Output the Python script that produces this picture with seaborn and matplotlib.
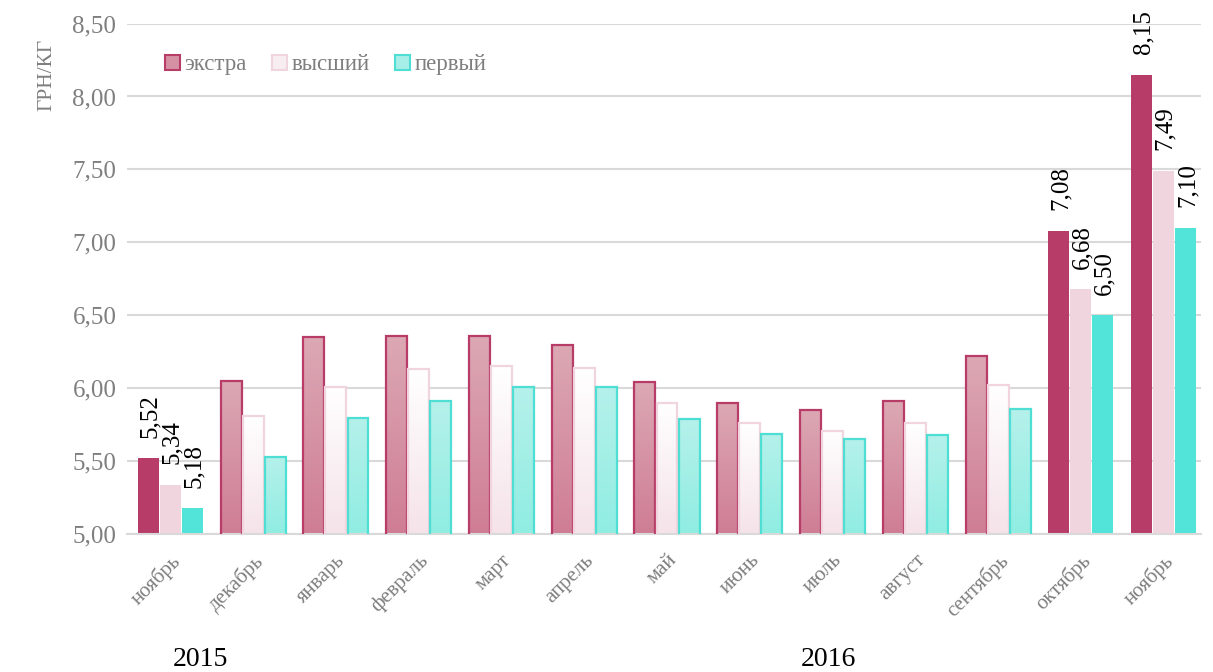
import numpy as np
import pandas as pd
import matplotlib
matplotlib.use("Agg")
import matplotlib.pyplot as plt
import seaborn as sns
from matplotlib.colors import LinearSegmentedColormap
from matplotlib.patches import Patch

months = ["ноябрь", "декабрь", "январь", "февраль", "март", "апрель", "май",
          "июнь", "июль", "август", "сентябрь", "октябрь", "ноябрь "]
series = ["экстра", "высший", "первый"]
extra = [5.52, 6.05, 6.35, 6.36, 6.36, 6.30, 6.04, 5.90, 5.85, 5.91, 6.22, 7.08, 8.15]
vysshiy = [5.34, 5.81, 6.01, 6.13, 6.15, 6.14, 5.90, 5.76, 5.71, 5.76, 6.02, 6.68, 7.49]
perviy = [5.18, 5.53, 5.80, 5.91, 6.01, 6.01, 5.79, 5.69, 5.65, 5.68, 5.86, 6.50, 7.10]
yticks = [5.0, 5.5, 6.0, 6.5, 7.0, 7.5, 8.0, 8.5]
years = ["2015", "2016"]
labeled_groups = [0, 11, 12]

df = pd.DataFrame({
    "month": months * 3,
    "series": [s for s in series for _ in months],
    "value": extra + vysshiy + perviy,
})

solid = {"экстра": "#b83c68", "высший": "#f0d5de", "первый": "#52e3d9"}
edges = {"экстра": "#b83c68", "высший": "#f0d5de", "первый": "#4fded3"}
grad = {"экстра": ("#dca8b4", "#cf7d95"),
        "высший": ("#ffffff", "#f5e3e9"),
        "первый": ("#b5f1eb", "#90ede2")}

sns.set_theme(style="white")
plt.rcParams["font.family"] = ["Liberation Serif", "DejaVu Serif"]

fig = plt.figure(figsize=(12.13, 6.72), dpi=100)
ax = fig.add_axes([0.105, 0.205, 0.885, 0.76])

sns.barplot(data=df, x="month", y="value", hue="series", order=months,
            hue_order=series, palette=solid, width=0.8, gap=0.05,
            ax=ax, legend=False, saturation=1)

ymin, ymax = 5.0, 8.5
ax.set_ylim(ymin, ymax)
ax.set_xlim(-0.52, 12.45)
ax.set_yticks(yticks)
ax.set_yticklabels([f"{v:.2f}".replace(".", ",") for v in yticks],
                   fontsize=18, color="#7f7f7f")
ax.set_xticks(range(len(months)))
ax.set_xticklabels([m.strip() for m in months], rotation=45, ha="right",
                   rotation_mode="anchor", fontsize=15, color="#7f7f7f")
ax.tick_params(axis="x", length=0, pad=12)
ax.tick_params(axis="y", length=0, pad=8)
ax.yaxis.grid(True, color="#d9d9d9", linewidth=1.5)
ax.set_axisbelow(True)
for s in ["top", "right", "left"]:
    ax.spines[s].set_visible(False)
ax.spines["bottom"].set_color("#d9d9d9")
ax.spines["bottom"].set_linewidth(1.5)
ax.set_xlabel("")
ax.set_ylabel("ГРН/КГ", fontsize=15.5, color="#7f7f7f")
ax.yaxis.set_label_coords(-0.066, 0.9)

vals = {"экстра": extra, "высший": vysshiy, "первый": perviy}
for hi, s in enumerate(series):
    cont = ax.containers[hi]
    cmap = LinearSegmentedColormap.from_list(s, [grad[s][1], grad[s][0]])
    for i, bar in enumerate(cont):
        x0 = bar.get_x()
        w = bar.get_width()
        h = bar.get_height()
        y0 = bar.get_y()
        top = y0 + h
        if i in labeled_groups:
            bar.set_linewidth(0)
            ax.text(x0 + w / 2 + 0.02, top + 0.14, f"{vals[s][i]:.2f}".replace(".", ","),
                    rotation=90, ha="center", va="bottom", fontsize=18,
                    color="black")
        else:
            bar.set_facecolor("none")
            bar.set_edgecolor(edges[s])
            bar.set_linewidth(1.6)
            bar.set_zorder(3)
            ax.imshow(np.linspace(0, 1, 100).reshape(-1, 1), cmap=cmap,
                      aspect="auto", extent=[x0, x0 + w, ymin, top],
                      origin="lower", zorder=2)

ax.set_xlim(-0.52, 12.45)
ax.set_ylim(ymin, ymax)

handles = [Patch(facecolor="#d690a4", edgecolor="#b83c68", linewidth=1.5),
           Patch(facecolor="#f8eef1", edgecolor="#f0d5de", linewidth=1.5),
           Patch(facecolor="#a6efe8", edgecolor="#4fded3", linewidth=1.5)]
leg = ax.legend(handles, series, loc="upper left", bbox_to_anchor=(0.016, 0.98),
                ncol=3, frameon=False, fontsize=16.5, handlelength=0.65,
                handleheight=0.65, handletextpad=0.2, columnspacing=1.1)
for t in leg.get_texts():
    t.set_color("#7f7f7f")

fig.text(200 / 1213, 1 - 660 / 672, years[0], ha="center", va="center",
         fontsize=20, color="black")
fig.text(828 / 1213, 1 - 660 / 672, years[1], ha="center", va="center",
         fontsize=20, color="black")

fig.savefig("out.png", dpi=100)
